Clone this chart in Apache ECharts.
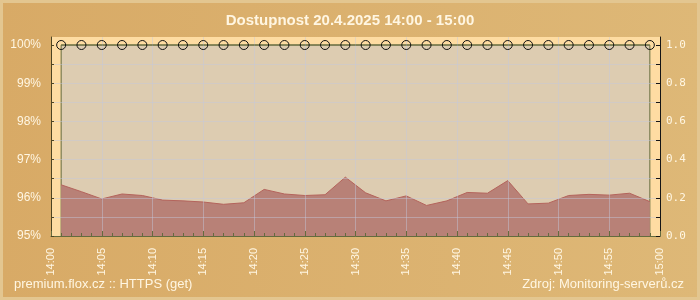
<!DOCTYPE html>
<html>
<head>
<meta charset="utf-8">
<script src="https://cdn.jsdelivr.net/npm/echarts@6/dist/echarts.min.js"></script>
<style>
  html, body { margin: 0; padding: 0; }
  #chart { width: 700px; height: 300px; }
</style>
</head>
<body>
<div id="chart"></div>
<script>
// mereni po 2 minutach
var times = ['14:01', '14:03', '14:05', '14:07', '14:09', '14:11', '14:13', '14:15', '14:17', '14:19',
             '14:21', '14:23', '14:25', '14:27', '14:29', '14:31', '14:33', '14:35', '14:37', '14:39',
             '14:41', '14:43', '14:45', '14:47', '14:49', '14:51', '14:53', '14:55', '14:57', '14:59'];
// dostupnost v % (leva osa)
var avail = [96.34, 96.16, 95.97, 96.10, 96.06, 95.94, 95.92, 95.89, 95.83, 95.87,
             96.22, 96.10, 96.06, 96.08, 96.54, 96.13, 95.92, 96.05, 95.80, 95.92,
             96.14, 96.12, 96.45, 95.84, 95.86, 96.06, 96.09, 96.07, 96.12, 95.90];
// stav (prava osa)
var state = [1, 1, 1, 1, 1, 1, 1, 1, 1, 1,
             1, 1, 1, 1, 1, 1, 1, 1, 1, 1,
             1, 1, 1, 1, 1, 1, 1, 1, 1, 1];

var xLabels = ['14:00', '14:05', '14:10', '14:15', '14:20', '14:25', '14:30',
               '14:35', '14:40', '14:45', '14:50', '14:55', '15:00'];
var leftLabels = [95, 96, 97, 98, 99, 100];
var leftTicks = [95, 95.5, 96, 96.5, 97, 97.5, 98, 98.5, 99, 99.5, 100];
var rightLabels = [0, 0.2, 0.4, 0.6, 0.8, 1.0];
var rightTicks = [0, 0.1, 0.2, 0.3, 0.4, 0.5, 0.6, 0.7, 0.8, 0.9, 1.0];

// minuty od 14:00
function toMin(t) {
  var p = t.split(':');
  return (parseInt(p[0], 10) - 14) * 60 + parseInt(p[1], 10);
}

var availData = times.map(function (t, i) { return [toMin(t), avail[i]]; });
var stateData = times.map(function (t, i) { return [toMin(t), state[i]]; });

var cream = '#fff6e2';
var olive = '#646b3e';
var gridCol = 'rgba(195,200,222,0.45)';

var chart = echarts.init(document.getElementById('chart'));

var option = {
  animation: false,
  backgroundColor: {
    type: 'linear', x: 0, y: 0, x2: 1, y2: 0,
    colorStops: [{ offset: 0, color: '#d8aa66' }, { offset: 1, color: '#deb877' }]
  },
  graphic: [{
    type: 'rect',
    shape: { x: 1.5, y: 1.5, width: 697, height: 297 },
    style: { fill: 'none', stroke: '#e3c690', lineWidth: 3 },
    silent: true
  }],
  title: [{
    text: 'Dostupnost 20.4.2025 14:00 - 15:00',
    left: 'center',
    top: 13,
    padding: 0,
    textStyle: { color: cream, fontSize: 15, fontWeight: 'bold', fontFamily: 'Liberation Sans' }
  }, {
    text: 'premium.flox.cz :: HTTPS (get)',
    left: 14,
    top: 278,
    padding: 0,
    textStyle: { color: cream, fontSize: 13, fontWeight: 'normal', fontFamily: 'Liberation Sans' }
  }, {
    text: 'Zdroj: Monitoring-serverů.cz',
    right: 16,
    top: 278,
    padding: 0,
    textStyle: { color: cream, fontSize: 13, fontWeight: 'normal', fontFamily: 'Liberation Sans' }
  }],
  grid: {
    left: 51, right: 40, top: 37, bottom: 64,
    show: true,
    backgroundColor: '#fedca2',
    borderWidth: 0
  },
  xAxis: {
    type: 'value',
    min: 0, max: 60, interval: 5,
    z: 3,
    axisLine: { lineStyle: { color: olive, width: 1 } },
    axisTick: { inside: true, length: 5, lineStyle: { color: olive } },
    minorTick: { show: true, splitNumber: 5, length: 3, lineStyle: { color: olive } },
    splitLine: { show: true, showMinLine: false, showMaxLine: false, lineStyle: { color: gridCol } },
    axisLabel: {
      rotate: 90,
      margin: 12,
      color: cream,
      fontSize: 11,
      fontFamily: 'Liberation Sans',
      formatter: function (v) { return xLabels[Math.round(v / 5)]; }
    }
  },
  yAxis: [{
    type: 'value',
    min: 95, max: 100.21,
    z: 3,
    axisLine: { show: true, lineStyle: { color: '#4e4524' } },
    axisTick: { show: true, inside: true, length: 3, customValues: leftTicks, lineStyle: { color: '#4e4524' } },
    splitLine: { show: true, showMinLine: false, showMaxLine: false, lineStyle: { color: gridCol } },
    axisLabel: {
      customValues: leftLabels,
      margin: 10,
      color: cream,
      fontSize: 12,
      fontFamily: 'Liberation Sans',
      formatter: function (v) { return v + '%'; }
    }
  }, {
    type: 'value',
    min: 0, max: 1.0419,
    position: 'right',
    z: 3,
    axisLine: { show: true, lineStyle: { color: '#151515' } },
    axisTick: { show: true, inside: true, length: 4, customValues: rightTicks, lineStyle: { color: '#151515' } },
    splitLine: { show: false },
    axisLabel: {
      customValues: rightLabels,
      margin: 6,
      color: cream,
      fontSize: 11,
      fontFamily: 'DejaVu Sans Mono',
      formatter: function (v) { return v.toFixed(1); }
    }
  }],
  series: [{
    // bezova plocha mereni
    type: 'line',
    z: 1,
    data: [],
    silent: true,
    markArea: {
      silent: true,
      itemStyle: { color: '#ddccb1', borderColor: olive, borderWidth: 1 },
      data: [[
        { xAxis: toMin(times[0]), yAxis: leftLabels[leftLabels.length - 1] },
        { xAxis: toMin(times[times.length - 1]), yAxis: leftLabels[0] }
      ]]
    }
  }, {
    name: 'dostupnost',
    type: 'line',
    z: 2,
    data: availData,
    showSymbol: false,
    lineStyle: { color: '#b4645c', width: 1 },
    areaStyle: { color: '#b88177', opacity: 1, origin: 'start' }
  }, {
    name: 'stav',
    type: 'line',
    yAxisIndex: 1,
    z: 4,
    data: stateData,
    symbol: 'circle',
    symbolSize: 9,
    lineStyle: { color: olive, width: 1 },
    itemStyle: { color: 'rgba(0,0,0,0)', borderColor: '#111', borderWidth: 1 }
  }]
};

chart.setOption(option);
</script>
</body>
</html>
